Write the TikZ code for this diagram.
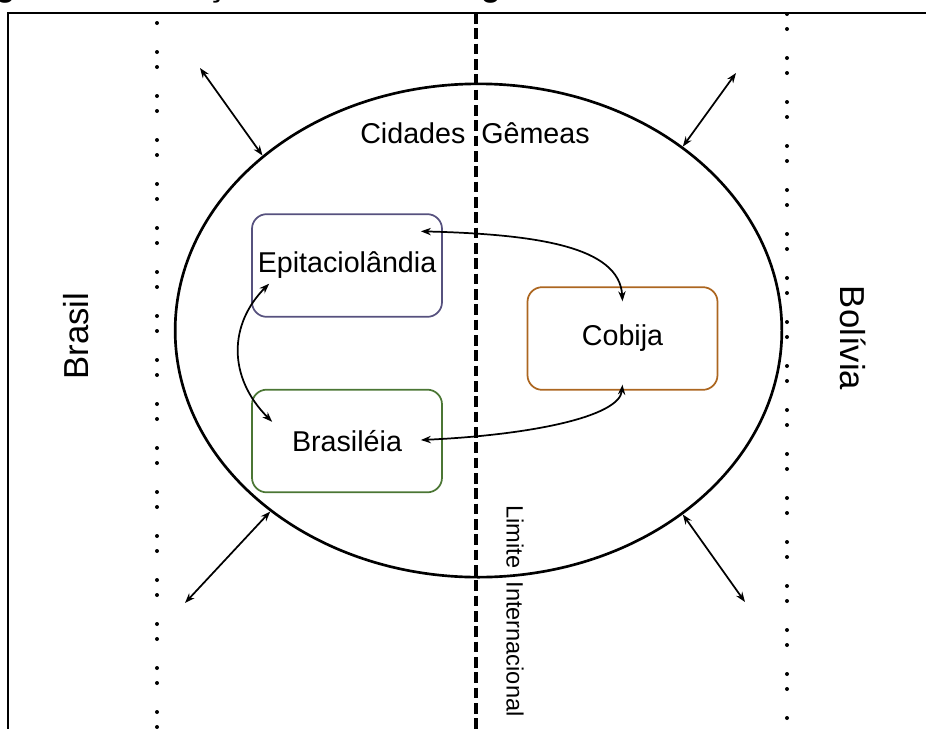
\documentclass[tikz,border=0pt]{standalone}
\usepackage{fontspec}
\setmainfont{Liberation Sans}
\usepackage{xcolor}
\usetikzlibrary{arrows.meta,positioning,shapes,calc}

\definecolor{epiblue}{RGB}{86,81,126}
\definecolor{bragreen}{RGB}{75,118,52}
\definecolor{cobbrown}{RGB}{172,102,32}

\begin{document}
\begin{tikzpicture}[
    x=0.75pt, y=-0.75pt,
    city/.style={rectangle, draw, rounded corners=11pt, minimum width=142.5pt, minimum height=77pt, line width=1.3pt, font=\fontsize{21.5}{26}\selectfont},
    link/.style={{Stealth[length=7.5pt,width=5.5pt]}-{Stealth[length=7.5pt,width=5.5pt]}, line width=1.3pt},
    country/.style={font=\fontsize{26}{31}\selectfont},
    dots/.style={line width=3pt, line cap=round}
]
    \useasboundingbox (0,0) rectangle (926,729);

    % caption (cut off at the top)
    \node[anchor=base west, inner sep=0pt, font=\bfseries\fontsize{24}{29}\selectfont] (legenda) at (-33,-4) {Figura 4 - Interações das cidades gêmeas na fronteira Brasil-Bolívia};

    % frame
    \draw[line width=2pt] (8,729) -- (8,13) -- (926,13);

    % dotted borders
    \draw[dots, dash pattern=on 0pt off 21.75pt on 0pt off 11.25pt] (157,23) -- (157,729);
    \draw[dots, dash pattern=on 0pt off 11.25pt on 0pt off 21.75pt] (787,14) -- (787,729);

    % twin cities area
    \node[ellipse, draw, line width=2pt, minimum width=455pt, minimum height=370pt, inner sep=0pt] (gemeas) at (478.5,330.5) {};
    \node[font=\fontsize{21.5}{26}\selectfont] (titulo) at (475,133) {Cidades~~Gêmeas};

    % cities
    \node[city, draw=epiblue] (epi) at (347,265.5) {Epitaciolândia};
    \node[city, draw=bragreen] (bra) at (347,441) {Brasiléia};
    \node[city, draw=cobbrown] (cob) at (622.5,338.5) {Cobija};

    % countries
    \node[country, rotate=90] (brasil) at (76,336) {Brasil};
    \node[country, rotate=-90] (bolivia) at (853,338) {Bolívia};

    % links between cities
    \draw[link] ($(epi.north east)+(-22,18)$) .. controls +(115,3) and +(-3,-55) .. ($(cob.north)+(0,15)$);
    \draw[link] ($(cob.south)+(0,-6)$) .. controls +(-3,32) and +(110,-5) .. ($(bra.east)+(-22,-1)$);
    \draw[link] ($(epi.south west)+(18,-34)$) .. controls +(-40,40) and +(-45,-45) .. ($(bra.north west)+(21,33)$);

    % links to the outside
    \coordinate (fora1) at (200,68);
    \coordinate (fora2) at (736,73);
    \coordinate (fora3) at (185,603);
    \coordinate (fora4) at (745,602);
    \draw[link] (fora1) -- (gemeas.141);
    \draw[link] (fora2) -- (gemeas.42);
    \draw[link] (fora3) -- (gemeas.221);
    \draw[link] (fora4) -- (gemeas.318);

    % border line
    \draw[line width=3pt, dash pattern=on 8pt off 3.5pt] (476,13) -- (476,729);
    \node[rotate=-90, font=\fontsize{17.7}{21}\selectfont] (limite) at (515,611) {Limite~~Internacional};
\end{tikzpicture}
\end{document}
